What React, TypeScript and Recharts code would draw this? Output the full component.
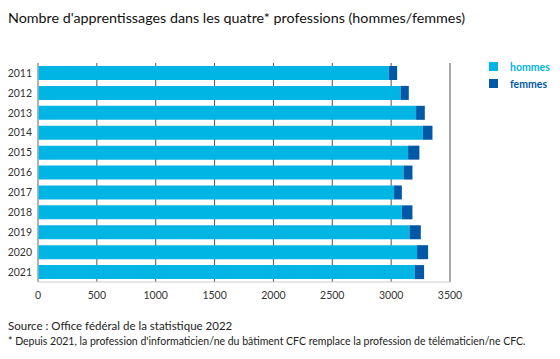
import React from "react";
import { BarChart, Bar, XAxis, YAxis, CartesianGrid } from "recharts";

const years = ["2011", "2012", "2013", "2014", "2015", "2016", "2017", "2018", "2019", "2020", "2021"];
const hommes = [2980, 3080, 3212, 3269, 3144, 3105, 3025, 3091, 3156, 3220, 3201];
const femmes = [71, 70, 74, 82, 96, 76, 66, 90, 96, 94, 79];
const xTicks = [0, 500, 1000, 1500, 2000, 2500, 3000, 3500];

const C_H = "#00b4e4";
const C_F = "#0058a6";
const FONT = "Lato, 'Open Sans', sans-serif";

const data = years.map((y, i) => ({ year: y, hommes: hommes[i], femmes: femmes[i] }));

const legendItems = [
  { label: "hommes", color: C_H },
  { label: "femmes", color: C_F },
];

export default function App() {
  return (
    <div style={{ position: "absolute", left: 0, top: 0, width: 560, height: 359, background: "#fff", fontFamily: FONT }}>
      <div style={{ position: "absolute", left: 8, top: 9, fontSize: 14.3, color: "#111", whiteSpace: "nowrap" }}>
        Nombre d'apprentissages dans les quatre* professions (hommes/femmes)
      </div>
      <div style={{ position: "absolute", left: 0, top: 0 }}>
        <BarChart
          width={560}
          height={310}
          data={data}
          layout="vertical"
          margin={{ top: 63, right: 110, bottom: 3, left: 0 }}
          barSize={14}
        >
          <CartesianGrid horizontal={false} vertical={true} stroke="#555" strokeWidth={1} />
          <XAxis
            type="number"
            domain={[0, 3500]}
            ticks={xTicks}
            interval={0}
            tickLine={false}
            tickSize={0}
            tickMargin={10}
            height={25}
            axisLine={{ stroke: "#ccc" }}
            tick={{ fill: "#333", fontSize: 10.5, fontFamily: FONT }}
          />
          <YAxis
            type="category"
            dataKey="year"
            width={38}
            tickLine={false}
            tickSize={0}
            tickMargin={6}
            axisLine={{ stroke: "#bbb" }}
            tick={{ fill: "#333", fontSize: 10.5, fontFamily: FONT }}
          />
          <Bar dataKey="hommes" stackId="a" fill={C_H} isAnimationActive={false} />
          <Bar dataKey="femmes" stackId="a" fill={C_F} isAnimationActive={false} />
        </BarChart>
      </div>
      <div style={{ position: "absolute", left: 489, top: 58, fontSize: 10.5, fontWeight: 700 }}>
        {legendItems.map((it) => (
          <div key={it.label} style={{ display: "flex", alignItems: "center", height: 17 }}>
            <div style={{ width: 9, height: 9, background: it.color, marginRight: 12 }} />
            <span style={{ color: it.color }}>{it.label}</span>
          </div>
        ))}
      </div>
      <div style={{ position: "absolute", left: 8, top: 319, fontSize: 11.5, color: "#222", whiteSpace: "nowrap" }}>
        Source : Office fédéral de la statistique 2022
      </div>
      <div style={{ position: "absolute", left: 8, top: 335, fontSize: 10.5, color: "#222", whiteSpace: "nowrap" }}>
        * Depuis 2021, la profession d'informaticien/ne du bâtiment CFC remplace la profession de télématicien/ne CFC.
      </div>
    </div>
  );
}
